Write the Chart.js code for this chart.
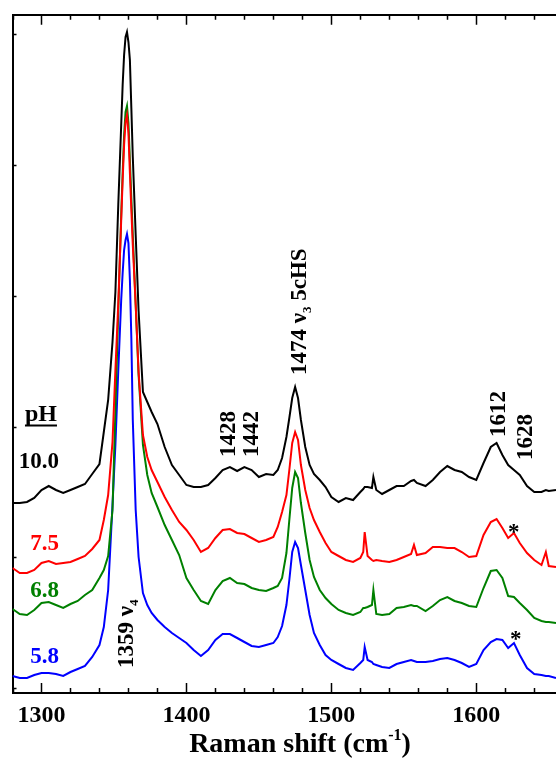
<!DOCTYPE html>
<html>
<head>
<meta charset="utf-8">
<script src="https://cdn.jsdelivr.net/npm/chart.js@4.4.1/dist/chart.umd.min.js"></script>
<style>
  html, body { margin: 0; padding: 0; background: #fff; overflow: hidden; }
</style>
</head>
<body>
<canvas id="ramanChart" width="556" height="758"></canvas>
<script>
  // Raman spectra at four pH values (intensity in arbitrary units, offset traces)
  const wavenumber = [1280,1285,1290,1295,1300,1305,1310,1315,1320,1325,1330,1335,1340,
    1343,1346,1349,1351,1353,1355,1356,1357,1358,1359,1360,1361,1362,1363,1365,1367,
    1370,1373,1376,
    1380,1385,1390,1395,1400,1405,1410,1415,1420,1425,1430,1435,1440,1445,1450,1455,1460,
    1463,1466,1469,1471,1473,1475,1477,1479,1482,1485,1488,
    1492,1496,
    1500,1505,1510,1515,1520,
    1522,1523,1525,1528,1529,1531,
    1535,1540,1545,1550,1555,
    1557,1559,
    1565,1570,1575,1580,1585,1590,1595,1600,1605,
    1610,1614,1618,1622,1626,1630,
    1635,1640,1645,
    1648,1650,1655];

  const pH100 = [185,185,186,190,198,202,198,195,198,201,204,214,224,
    256,288,346,396,484,563,603,633,651,656,646,628,580,531,453,377,
    296,286,276,
    264,241,223,213,203,201,201,203,210,218,221,217,221,218,211,214,213,
    218,230,251,270,290,301,290,268,241,223,214,
    208,201,
    191,186,190,188,196,
    199,201,201,200,211,198,
    194,198,202,202,207,
    208,205,
    202,208,216,222,218,216,211,208,225,
    241,245,233,223,218,213,
    202,196,196,
    198,197,198];

  const pH75 = [120,115,115,118,125,127,124,125,126,129,132,139,148,
    168,193,246,318,385,468,508,543,566,573,555,515,478,443,383,316,
    253,231,218,
    206,191,178,166,158,148,136,140,150,158,159,155,154,150,146,148,151,
    161,176,193,218,245,256,248,223,198,180,168,
    156,145,
    136,132,128,126,130,
    136,156,132,128,127,128,
    127,126,128,131,134,
    143,133,
    135,141,141,140,140,136,131,132,153,
    166,169,160,150,155,145,
    135,128,123,
    136,122,121];

  const pH68 = [79,74,73,78,85,86,83,80,84,87,93,98,110,
    118,132,178,278,378,473,515,553,576,582,565,528,490,453,383,313,
    243,213,195,
    181,163,148,133,110,98,87,84,98,107,110,105,104,100,98,97,100,
    102,110,135,168,200,216,210,185,155,128,111,
    98,90,
    84,78,75,73,76,
    80,80,81,83,98,74,
    73,74,80,81,83,
    82,82,
    77,82,88,91,87,85,82,81,100,
    117,118,110,92,91,85,
    78,70,67,
    66,66,65];

  const pH58 = [12,10,10,13,15,15,14,12,16,19,22,31,43,
    61,98,183,243,318,388,415,438,448,454,445,408,350,268,178,131,
    95,83,75,
    68,61,55,50,45,38,32,38,48,54,54,50,46,42,41,43,45,
    51,62,83,108,136,146,140,123,98,73,55,
    43,33,
    28,24,20,18,25,
    28,41,28,26,24,23,
    21,20,24,26,28,
    27,26,
    26,27,29,30,28,25,21,24,38,
    46,49,48,40,45,33,
    20,14,13,
    12,12,10];

  const xLabels = [1300, 1400, 1500, 1600];
  const xMin = 1280, xMax = 1655;
  const yTickStep = 130.7;

  const serif = '"Liberation Serif", "Times New Roman", serif';

  const toPoints = (vals) => wavenumber.map((x, i) => ({ x: x, y: vals[i] }));

  // text annotations, anchored in data coordinates
  const phLabels = [
    { text: '10.0', color: '#000000', y: 220 },
    { text: '7.5', color: '#ff0000', y: 138 },
    { text: '6.8', color: '#008000', y: 91 },
    { text: '5.8', color: '#0000ff', y: 25 }
  ];
  const peakLabels = [
    { x: 1363.1, y: 20, parts: [{ t: '1359 ' }, { t: 'ν' }, { t: '4', sub: true }] },
    { x: 1433.4, y: 231, parts: [{ t: '1428' }] },
    { x: 1449.3, y: 231, parts: [{ t: '1442' }] },
    { x: 1482.4, y: 313, parts: [{ t: '1474 ' }, { t: 'ν' }, { t: '3', sub: true }, { t: ' 5cHS' }] },
    { x: 1619.7, y: 251, parts: [{ t: '1612' }] },
    { x: 1638.3, y: 228, parts: [{ t: '1628' }] }
  ];
  const stars = [{ x: 1625.9, y: 160 }, { x: 1627.2, y: 53 }];

  function drawParts(ctx, parts, size) {
    let dx = 0;
    for (const p of parts) {
      const s = (p.sub || p.sup) ? Math.round(size * 0.58) : size;
      ctx.font = 'bold ' + s + 'px ' + serif;
      const dy = p.sub ? size * 0.22 : (p.sup ? -size * 0.42 : 0);
      ctx.fillText(p.t, dx, dy);
      dx += ctx.measureText(p.t).width;
    }
    return dx;
  }

  function measureParts(ctx, parts, size) {
    let w = 0;
    for (const p of parts) {
      const s = (p.sub || p.sup) ? Math.round(size * 0.58) : size;
      ctx.font = 'bold ' + s + 'px ' + serif;
      w += ctx.measureText(p.t).width;
    }
    return w;
  }

  const decorations = {
    id: 'decorations',
    afterDraw(chart) {
      const { ctx, chartArea: a } = chart;
      const x = chart.scales.x, y = chart.scales.y;
      ctx.save();

      // inward tick marks
      ctx.strokeStyle = '#000';
      ctx.lineWidth = 1.5;
      ctx.beginPath();
      for (let v = xMin; v <= xMax; v += 20) {
        const px = Math.round(x.getPixelForValue(v)) + 0.5;
        const len = v % 100 === 0 ? 10 : 5;
        ctx.moveTo(px, a.bottom); ctx.lineTo(px, a.bottom - len);
        ctx.moveTo(px, a.top); ctx.lineTo(px, a.top + len);
      }
      for (let k = 0; k <= 5; k++) {
        const py = Math.round(y.getPixelForValue(k * yTickStep)) + 0.5;
        ctx.moveTo(a.left, py); ctx.lineTo(a.left + 4, py);
      }
      ctx.stroke();

      ctx.textBaseline = 'alphabetic';

      // pH legend
      ctx.fillStyle = '#000';
      ctx.textAlign = 'left';
      ctx.font = 'bold 24px ' + serif;
      const phX = x.getPixelForValue(1288.6), phY = y.getPixelForValue(267);
      ctx.fillText('pH', phX, phY);
      const phW = ctx.measureText('pH').width;
      ctx.fillRect(phX, phY + 3.5, phW, 2);

      ctx.textAlign = 'right';
      ctx.font = 'bold 23px ' + serif;
      for (const l of phLabels) {
        ctx.fillStyle = l.color;
        ctx.fillText(l.text, x.getPixelForValue(1312.1), y.getPixelForValue(l.y));
      }

      // peak labels, rotated
      ctx.fillStyle = '#000';
      ctx.textAlign = 'left';
      for (const l of peakLabels) {
        ctx.save();
        ctx.translate(x.getPixelForValue(l.x), y.getPixelForValue(l.y));
        ctx.rotate(-Math.PI / 2);
        drawParts(ctx, l.parts, 23);
        ctx.restore();
      }

      ctx.textAlign = 'center';
      ctx.font = 'bold 23px ' + serif;
      for (const s of stars) {
        ctx.fillText('*', x.getPixelForValue(s.x), y.getPixelForValue(s.y) + 11);
      }

      // axis title
      ctx.textAlign = 'left';
      const title = [{ t: 'Raman shift (cm' }, { t: '-1', sup: true }, { t: ')' }];
      const tw = measureParts(ctx, title, 28);
      ctx.save();
      ctx.translate(300 - tw / 2, 752);
      drawParts(ctx, title, 28);
      ctx.restore();

      ctx.restore();
    }
  };

  const line = (label, vals, color) => ({
    label: label,
    data: toPoints(vals),
    borderColor: color,
    borderWidth: 2,
    pointRadius: 0,
    tension: 0,
    fill: false
  });

  const noPad = (scale) => { scale.paddingLeft = 0; scale.paddingRight = 0; };

  new Chart(document.getElementById('ramanChart'), {
    type: 'line',
    data: {
      datasets: [
        line('pH 10.0', pH100, '#000000'),
        line('pH 7.5', pH75, '#ff0000'),
        line('pH 6.8', pH68, '#008000'),
        line('pH 5.8', pH58, '#0000ff')
      ]
    },
    options: {
      responsive: false,
      animation: false,
      devicePixelRatio: 1,
      layout: { padding: 0 },
      plugins: {
        legend: { display: false },
        tooltip: { enabled: false }
      },
      scales: {
        x: {
          type: 'linear',
          position: 'bottom',
          min: xMin,
          max: xMax,
          grid: { display: false, drawTicks: false },
          border: { display: true, color: '#000', width: 2 },
          ticks: {
            stepSize: 100,
            includeBounds: false,
            autoSkip: false,
            maxRotation: 0,
            padding: 8,
            color: '#000',
            font: { family: serif, size: 24, weight: 'bold', lineHeight: 1.2 },
            callback: (v) => xLabels.includes(v) ? String(v) : ''
          },
          afterFit(scale) { scale.height = 65; noPad(scale); }
        },
        xTop: {
          type: 'linear',
          position: 'top',
          min: xMin,
          max: xMax,
          grid: { display: false, drawTicks: false },
          border: { display: true, color: '#000', width: 2 },
          ticks: { display: false },
          afterFit(scale) { scale.height = 14.7; noPad(scale); }
        },
        y: {
          type: 'linear',
          position: 'left',
          min: -5,
          max: 673.3,
          grid: { display: false, drawTicks: false },
          border: { display: true, color: '#000', width: 2 },
          ticks: { display: false },
          afterFit(scale) { scale.width = 12.5; }
        }
      }
    },
    plugins: [decorations]
  });
</script>
</body>
</html>
